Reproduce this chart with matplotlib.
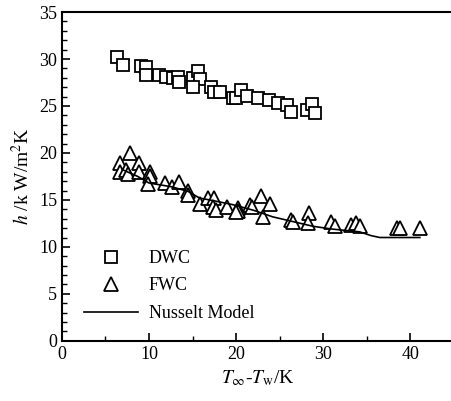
import matplotlib
matplotlib.use('Agg')
import matplotlib.pyplot as plt
from matplotlib.ticker import MultipleLocator

plt.rcParams['font.family'] = ['Liberation Serif', 'DejaVu Serif']
plt.rcParams['mathtext.fontset'] = 'stix'

# DWC (squares)
dwc_x = [6.3, 7.0, 9.1, 9.7, 9.6, 11.2, 12.0, 12.8, 13.3, 13.5, 15.0, 15.6, 15.8,
         15.1, 17.1, 17.5, 18.2, 19.6, 20.0, 20.6, 21.2, 22.5, 23.8, 24.8, 25.8,
         26.3, 28.1, 28.7, 29.1]
dwc_y = [30.2, 29.4, 29.3, 29.1, 28.3, 28.3, 28.1, 28.0, 28.1, 27.6, 28.0, 28.7, 27.9,
         27.0, 27.0, 26.5, 26.5, 25.8, 25.8, 26.7, 26.1, 25.8, 25.6, 25.3, 25.1,
         24.4, 24.6, 25.2, 24.2]

# FWC (triangles)
fwc_x = [7.8, 6.7, 8.9, 6.7, 7.4, 7.6, 8.9, 10.1, 10.1, 9.9, 11.8, 12.6, 13.5, 14.5,
         14.5, 15.8, 16.8, 17.5, 17.4, 17.7, 19.0, 20.2, 20.2, 20.0, 21.6, 21.8,
         22.9, 23.9, 23.1, 26.3, 26.5, 28.4, 28.2, 30.9, 31.3, 33.2, 33.8, 34.2,
         38.5, 38.8, 41.1]
fwc_y = [20.0, 18.9, 18.9, 18.0, 18.2, 17.8, 18.0, 18.0, 17.5, 16.7, 16.8, 16.4, 16.9,
         15.9, 15.5, 14.6, 15.2, 15.2, 14.3, 13.9, 14.2, 14.1, 13.8, 13.7, 14.5, 14.3,
         15.4, 14.6, 13.2, 12.9, 12.7, 13.6, 12.5, 12.7, 12.2, 12.3, 12.5, 12.2,
         12.0, 12.0, 12.0]

# Nusselt model
nu_x = [7.0, 8.7, 10.0, 12.6, 14.5, 15.8, 17.5, 19.6, 22.0, 24.2, 26.5, 28.8, 31.0,
        34.2, 35.5, 36.5, 38.0, 41.1]
nu_y = [18.2, 17.5, 16.8, 16.4, 15.9, 15.2, 14.9, 14.5, 13.9, 13.2, 12.7, 12.2, 11.9,
        11.6, 11.2, 11.0, 11.0, 11.0]

fig = plt.figure(figsize=(4.52, 4.01), dpi=100)
ax = fig.add_axes([0.137, 0.150, 0.867, 0.820])

ax.plot(dwc_x, dwc_y, 's', mfc='white', mec='k', mew=1.3, ms=8.2, ls='none', label='DWC')
ax.plot(fwc_x, fwc_y, '^', mfc='white', mec='k', mew=1.3, ms=9.5, ls='none', label='FWC')
ax.plot(nu_x, nu_y, '-', color='k', lw=1.2, label='Nusselt Model')

ax.set_xlim(0, 45)
ax.set_ylim(0, 35)
ax.xaxis.set_major_locator(MultipleLocator(10))
ax.xaxis.set_minor_locator(MultipleLocator(5))
ax.yaxis.set_major_locator(MultipleLocator(5))
ax.yaxis.set_minor_locator(MultipleLocator(1))
ax.tick_params(which='both', direction='in', top=False, right=False, labelsize=13)
ax.tick_params(which='major', length=6, width=1.2)
ax.tick_params(which='minor', length=3.5, width=1.0)
for s in ax.spines.values():
    s.set_linewidth(1.5)

ax.set_xlabel(r'$T_{\infty}$-$T_{\mathrm{w}}$/K', fontsize=14)
ax.set_ylabel(r'$h$ /k W/m$^2$K', fontsize=14)

ax.legend(loc='lower left', bbox_to_anchor=(0.033, 0.03), frameon=False, fontsize=13,
          handlelength=3.0, handletextpad=0.6, labelspacing=0.58, borderpad=0)

fig.savefig('out.png', dpi=100)
